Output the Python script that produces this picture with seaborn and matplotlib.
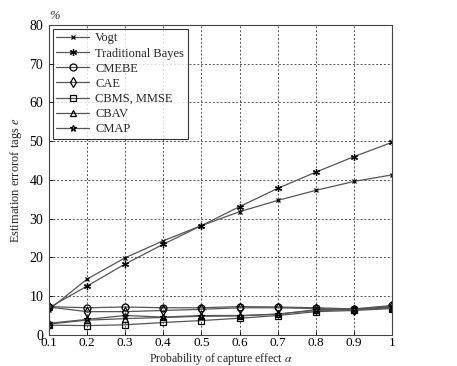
import matplotlib
matplotlib.use("Agg")
import matplotlib.pyplot as plt
import seaborn as sns
import pandas as pd

# capture-effect probability (x axis)
alpha = [0.1, 0.2, 0.3, 0.4, 0.5, 0.6, 0.7, 0.8, 0.9, 1.0]

# estimation error of tags, in %
vogt = [6.5, 14.4, 19.9, 24.3, 28.2, 31.8, 34.7, 37.3, 39.6, 41.3]
trad_bayes = [7.0, 12.6, 18.3, 23.4, 28.2, 33.1, 37.8, 42.0, 46.0, 49.7]
cmebe = [7.3, 7.0, 7.2, 7.0, 7.0, 7.3, 7.2, 7.0, 6.7, 7.6]
cae = [7.2, 6.0, 6.0, 6.3, 6.6, 7.0, 7.0, 6.8, 6.5, 7.4]
cbms = [2.5, 2.4, 2.6, 3.2, 3.7, 4.3, 5.0, 6.0, 6.3, 6.8]
cbav = [2.8, 3.8, 4.2, 4.5, 4.8, 4.9, 5.4, 6.3, 6.5, 7.0]
cmap_ = [3.0, 4.0, 5.0, 4.6, 5.0, 5.0, 5.3, 6.5, 6.6, 7.2]

names = ["Vogt", "Traditional Bayes", "CMEBE", "CAE", "CBMS, MMSE", "CBAV", "CMAP"]
series = [vogt, trad_bayes, cmebe, cae, cbms, cbav, cmap_]
markers = ["x", (6, 2, 0), "o", "d", "s", "^", "*"]
msizes = [3.5, 5, 5, 5, 5, 5, 5]

rows = []
for name, vals in zip(names, series):
    for a, v in zip(alpha, vals):
        rows.append({"alpha": a, "err": v, "method": name})
df = pd.DataFrame(rows)

sns.set_style("ticks")
plt.rcParams["font.family"] = ["Liberation Serif", "DejaVu Serif"]
plt.rcParams["mathtext.fontset"] = "stix"

fig = plt.figure(figsize=(4.57, 3.66), dpi=100)
ax = fig.add_axes([0.107, 0.085, 0.751, 0.847])

for name, mk, ms in zip(names, markers, msizes):
    sub = df[df["method"] == name]
    sns.lineplot(data=sub, x="alpha", y="err", ax=ax, color="#555555", lw=0.9,
                 marker=mk, markersize=ms, markeredgecolor="black",
                 markerfacecolor="none" if mk not in ["x", (6, 2, 0)] else "black",
                 markeredgewidth=0.9, label=name)

ax.set_xlim(0.1, 1.0)
ax.set_ylim(0, 80)
ax.set_xticks(alpha)
ax.set_xticklabels(["0.1", "0.2", "0.3", "0.4", "0.5", "0.6", "0.7", "0.8", "0.9", "1"])
ax.set_yticks(range(0, 81, 10))
ax.tick_params(direction="in", labelsize=10, length=3, width=0.6, colors="black")
ax.tick_params(axis="x", pad=1.5, labelsize=9.5)
ax.tick_params(axis="y", pad=4)
ax.grid(True, linestyle=(0, (2, 2)), color="#555555", lw=0.7)
for s in ax.spines.values():
    s.set_color("#444444")
    s.set_linewidth(0.8)

ax.set_xlabel(r"Probability of capture effect $\mathit{\alpha}$", fontsize=8.5)
ax.xaxis.set_label_coords(0.5, -0.052)
ax.set_ylabel(r"Estimation errorof tags $\mathit{e}$", fontsize=9, labelpad=4)
ax.text(0.0, 1.008, "%", transform=ax.transAxes, fontsize=9, style="italic",
        ha="left", va="bottom")

leg = ax.legend(loc="upper left", fontsize=9, frameon=True, fancybox=False,
                edgecolor="black", borderaxespad=0.3, handlelength=2.6,
                labelspacing=0.25, borderpad=0.3, handletextpad=0.5)
leg.get_frame().set_linewidth(0.8)

fig.savefig("out.png", dpi=100)
